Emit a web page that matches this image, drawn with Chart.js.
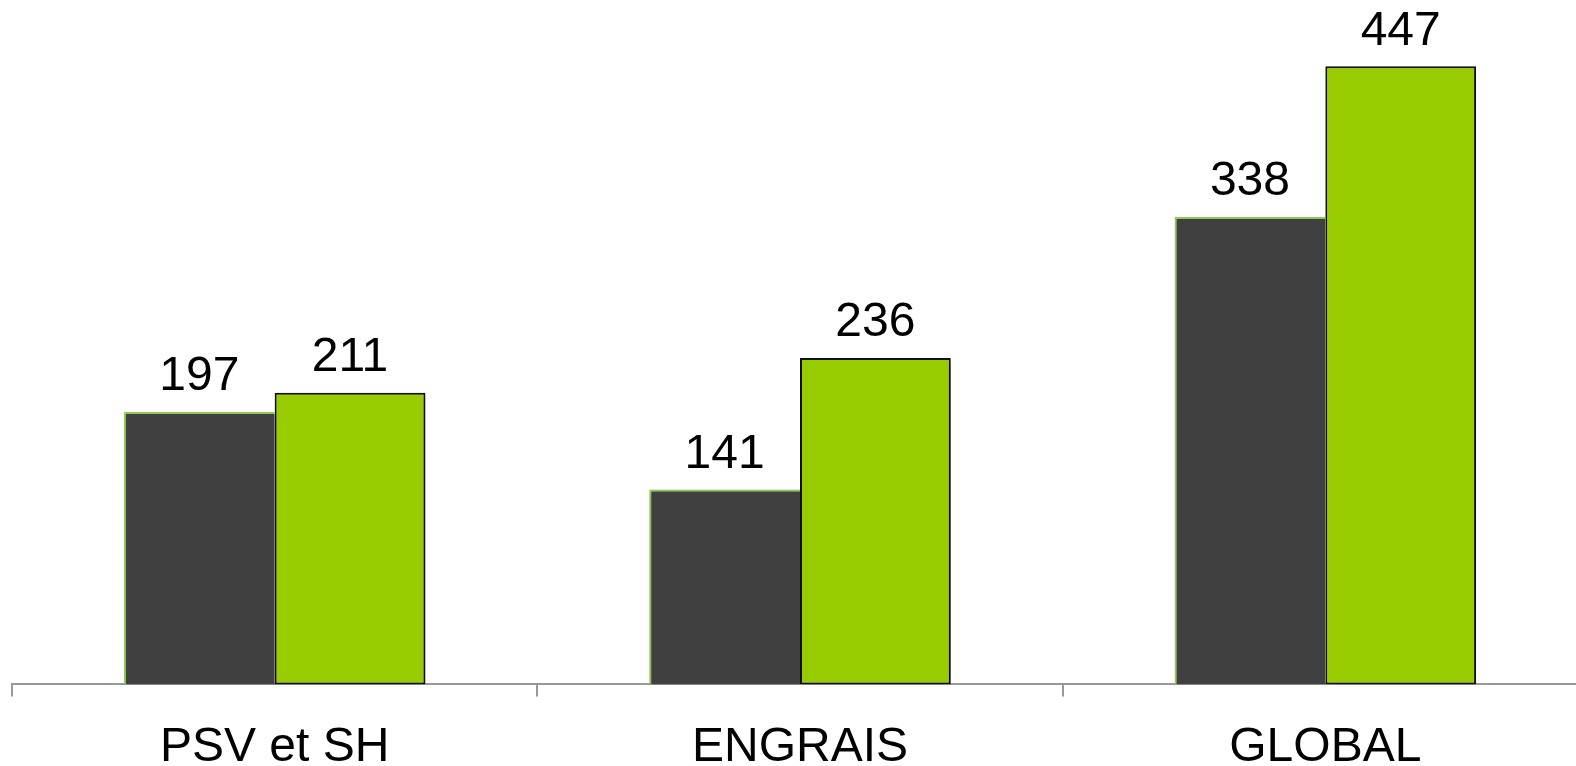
<!DOCTYPE html>
<html>
<head>
<meta charset="utf-8">
<script src="https://cdn.jsdelivr.net/npm/chart.js@4/dist/chart.umd.min.js"></script>
<style>
  html, body { margin: 0; padding: 0; background: #fff; overflow: hidden; }
  canvas { display: block; }
</style>
</head>
<body>
<!-- the axis runs a little past the right and bottom edges of the window -->
<canvas id="chart" width="1588" height="800"></canvas>
<script>
// categories and the two series
const categories = ["PSV et SH", "ENGRAIS", "GLOBAL"];
const seriesDark = [197, 141, 338];
const seriesGreen = [211, 236, 447];

const FONT = "'Liberation Sans', Arial, sans-serif";

// soft drop shadow under the bars
const barShadow = {
  id: "barShadow",
  beforeDatasetsDraw(chart) {
    const ctx = chart.ctx;
    ctx.save();
    ctx.shadowColor = "rgba(0,0,0,0.35)";
    ctx.shadowBlur = 5;
    ctx.shadowOffsetX = 2;
    ctx.shadowOffsetY = 2;
  },
  afterDatasetsDraw(chart) {
    chart.ctx.restore();
  }
};

// value written above each bar
const valueLabels = {
  id: "valueLabels",
  afterDatasetsDraw(chart) {
    const ctx = chart.ctx;
    ctx.save();
    ctx.font = "48px " + FONT;
    ctx.fillStyle = "#000";
    ctx.textAlign = "center";
    ctx.textBaseline = "bottom";
    chart.data.datasets.forEach((ds, i) => {
      chart.getDatasetMeta(i).data.forEach((bar, j) => {
        ctx.fillText(ds.data[j], bar.x, bar.y - 11);
      });
    });
    ctx.restore();
  }
};

new Chart(document.getElementById("chart"), {
  type: "bar",
  data: {
    labels: categories,
    datasets: [
      {
        data: seriesDark,
        backgroundColor: "#404040",
        borderColor: "#92D050",
        borderWidth: { top: 2, left: 2, right: 0, bottom: 0 },
        borderSkipped: false,
        categoryPercentage: 0.574,
        barPercentage: 1
      },
      {
        data: seriesGreen,
        backgroundColor: "#99CC00",
        borderColor: "#111",
        borderWidth: 2,
        borderSkipped: false,
        categoryPercentage: 0.574,
        barPercentage: 1
      }
    ]
  },
  options: {
    responsive: false,
    animation: false,
    layout: { padding: { left: 12, right: 0, top: 0, bottom: 0 } },
    plugins: {
      legend: { display: false },
      tooltip: { enabled: false }
    },
    scales: {
      x: {
        grid: {
          offset: true,
          drawOnChartArea: false,
          drawTicks: true,
          tickLength: 12,
          color: "#999",
          lineWidth: 2
        },
        border: { color: "#999", width: 2 },
        ticks: {
          color: "#000",
          padding: 23,
          font: { family: FONT, size: 48 }
        }
      },
      y: {
        display: false,
        min: 0,
        max: 495
      }
    }
  },
  plugins: [barShadow, valueLabels]
});
</script>
</body>
</html>
